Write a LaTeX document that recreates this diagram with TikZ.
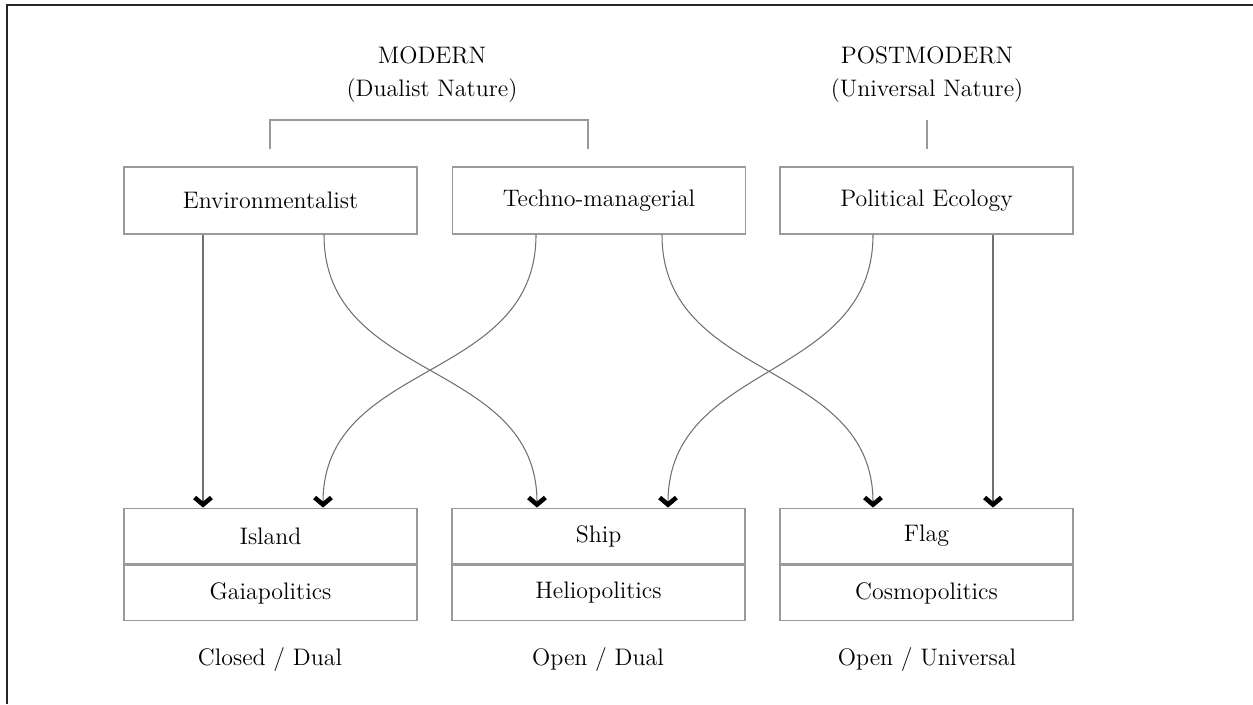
\documentclass[tikz,border=0pt]{standalone}
\usetikzlibrary{arrows.meta,calc}
\definecolor{boxline}{HTML}{9A9A9A}
\definecolor{conn}{HTML}{707070}
\begin{document}
\begin{tikzpicture}[x=0.02cm,y=-0.02cm,
  every node/.style={font=\fontsize{13.6}{16}\selectfont, text=black},
  topbox/.style={draw=boxline, line width=0.8pt, minimum width=5.86cm, minimum height=1.34cm, inner sep=0pt},
  halfbox/.style={draw=boxline, line width=0.8pt, minimum width=5.86cm, minimum height=1.11cm, inner sep=0pt},
  lbl/.style={inner sep=0pt},
  conn/.style={draw=conn, line width=0.6pt, -{Straight Barb[length=4pt,width=9.5pt,line width=2.6pt,color=black]}},
  curve/.style={conn, out=-90, in=90, looseness=1.1}
]
\useasboundingbox (0,0) rectangle (1253,704);
% frame (top and left only)
\draw[line width=1.1pt, black!85] (7,704) -- (7,5) -- (1253,5);

% headings
\node[lbl] (modern) at (432,55) {MODERN};
\node[lbl] (dualist) at (432,91) {(Dualist Nature)};
\node[lbl] (postmodern) at (927,55) {POSTMODERN};
\node[lbl] (universal) at (927,91) {(Universal Nature)};
\draw[boxline, line width=0.8pt] (270,149) -- (270,120) -- (588,120) -- (588,149);
\draw[boxline, line width=0.8pt] (927,120) -- (927,149);

% top boxes
\node[topbox] (env) at (270.5,200.5) {Environmentalist};
\node[topbox] (tech) at (599,200.5) {Techno-managerial};
\node[topbox] (pe) at (926.5,200.5) {Political Ecology};

% bottom boxes
\node[halfbox] (island) at (270.5,536) {Island};
\node[halfbox, anchor=north] (gaia) at (island.south) {Gaiapolitics};
\node[halfbox] (ship) at (598.5,536) {Ship};
\node[halfbox, anchor=north] (helio) at (ship.south) {Heliopolitics};
\node[halfbox] (flag) at (926.5,536) {Flag};
\node[halfbox, anchor=north] (cosmo) at (flag.south) {Cosmopolitics};

% bottom labels
\node[lbl] (cd) at (270,660) {Closed / Dual};
\node[lbl] (od) at (598,660) {Open / Dual};
\node[lbl] (ou) at (927,660) {Open / Universal};

% connectors
\draw[conn] ($(env.south)+(-67.5,0)$) -- ($(island.north)+(-67.5,0)$);
\draw[curve] ($(env.south)+(53.5,0)$) to ($(ship.north)+(-61.5,0)$);
\draw[curve] ($(tech.south)+(-63,0)$) to ($(island.north)+(52.5,0)$);
\draw[curve] ($(tech.south)+(63,0)$) to ($(flag.north)+(-53.5,0)$);
\draw[curve] ($(pe.south)+(-53.5,0)$) to ($(ship.north)+(69.5,0)$);
\draw[conn] ($(pe.south)+(66.5,0)$) -- ($(flag.north)+(66.5,0)$);
\end{tikzpicture}
\end{document}
